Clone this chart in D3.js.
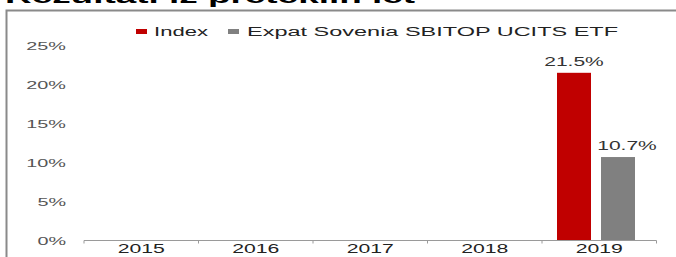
<!DOCTYPE html>
<html>
<head>
<meta charset="utf-8">
<script src="https://cdn.jsdelivr.net/npm/d3@7"></script>
<style>
  html, body { margin: 0; padding: 0; background: #fff; }
  svg { display: block; font-family: Arial, "Liberation Sans", sans-serif; }
</style>
</head>
<body>
<svg id="chart" width="676" height="257"></svg>
<script>
// ---- data ----
const title = "Rezultati iz preteklih let";
const years = ["2015", "2016", "2017", "2018", "2019"];
const seriesNames = ["Index", "Expat Sovenia SBITOP UCITS ETF"];
const indexValues = [null, null, null, null, 21.5];
const etfValues = [null, null, null, null, 10.7];
const yTicks = [0, 5, 10, 15, 20, 25];
const colors = ["#c00000", "#808080"];

const svg = d3.select("#chart");

// stretch text horizontally to match wide rendering of the original
function stretch(sel, k) {
  sel.each(function () {
    const w = this.getComputedTextLength();
    d3.select(this).attr("textLength", w * k).attr("lengthAdjust", "spacingAndGlyphs");
  });
}

// title (cut off at top)
const t = svg.append("text")
  .attr("x", 5).attr("y", 3)
  .attr("font-size", 21).attr("font-weight", "bold").attr("fill", "#000")
  .text(title);
t.attr("textLength", 410).attr("lengthAdjust", "spacingAndGlyphs");

// frame
svg.append("path")
  .attr("d", "M6.5,257 V10.5 H676")
  .attr("fill", "none").attr("stroke", "#8a8a8a").attr("stroke-width", 2);

// scales
const x0 = d3.scaleBand().domain(years).range([84, 656.5]).padding(0);
const x1 = d3.scaleBand().domain(seriesNames).range([15, 93]).paddingInner(0.2273);
const y = d3.scaleLinear().domain([0, 25]).range([240.5, 45.5]);

// y axis (labels only)
const yAxis = svg.append("g").attr("transform", "translate(66,0)")
  .call(d3.axisLeft(y).tickValues(yTicks).tickFormat(d => d + "%").tickSize(0).tickPadding(0));
yAxis.select(".domain").remove();
yAxis.selectAll("text").attr("font-size", 11).attr("fill", "#555").attr("font-family", "Arial, 'Liberation Sans', sans-serif");
stretch(yAxis.selectAll("text"), 1.8);

// bars
const rows = years.map((yr, i) => ({ year: yr, values: [indexValues[i], etfValues[i]] }));
const groups = svg.append("g").selectAll("g").data(rows).join("g")
  .attr("transform", d => `translate(${x0(d.year)},0)`);

groups.selectAll("rect")
  .data(d => d.values.map((v, j) => ({ name: seriesNames[j], v, j })).filter(e => e.v != null))
  .join("rect")
  .attr("x", e => x1(e.name))
  .attr("width", x1.bandwidth())
  .attr("y", e => y(e.v))
  .attr("height", e => y(0) - y(e.v))
  .attr("fill", e => colors[e.j]);

// value labels
const labelOffset = [0, 9];
const vl = groups.selectAll("text.val")
  .data(d => d.values.map((v, j) => ({ name: seriesNames[j], v, j })).filter(e => e.v != null))
  .join("text").attr("class", "val")
  .attr("x", e => x1(e.name) + x1.bandwidth() / 2 + labelOffset[e.j])
  .attr("y", e => y(e.v) - 7)
  .attr("text-anchor", "middle")
  .attr("font-size", 12).attr("fill", "#333")
  .text(e => e.v.toFixed(1) + "%");
stretch(vl, 1.75);

// x axis
const xAxis = svg.append("g").attr("transform", "translate(0,240.5)")
  .call(d3.axisBottom(x0).tickSize(0).tickPadding(0));
xAxis.select(".domain").attr("stroke", "#9a9a9a").attr("d", "M84,0H656.5");
xAxis.selectAll("text").attr("font-size", 13).attr("fill", "#222").attr("dy", 0).attr("y", 12.3)
  .attr("font-family", "Arial, 'Liberation Sans', sans-serif");
stretch(xAxis.selectAll("text"), 1.63);
// boundary tick marks
const bounds = years.map(d => x0(d)).concat([x0.range()[1]]);
xAxis.selectAll("line.bound").data(bounds).join("line").attr("class", "bound")
  .attr("x1", d => d).attr("x2", d => d).attr("y1", 0).attr("y2", 3)
  .attr("stroke", "#9a9a9a");

// legend
const legendX = [136, 228];
const legend = svg.append("g").selectAll("g").data(seriesNames).join("g")
  .attr("transform", (d, i) => `translate(${legendX[i]},0)`);
legend.append("rect").attr("x", 0).attr("y", 29).attr("width", 11).attr("height", 5)
  .attr("fill", (d, i) => colors[i]);
const lt = legend.append("text").attr("x", (d, i) => i === 0 ? 18 : 19).attr("y", 35.5)
  .attr("font-size", 12.5).attr("fill", "#222").text(d => d);
lt.each(function (d, i) {
  const target = i === 0 ? 54 : 371;
  d3.select(this).attr("textLength", target).attr("lengthAdjust", "spacingAndGlyphs");
});
</script>
</body>
</html>
